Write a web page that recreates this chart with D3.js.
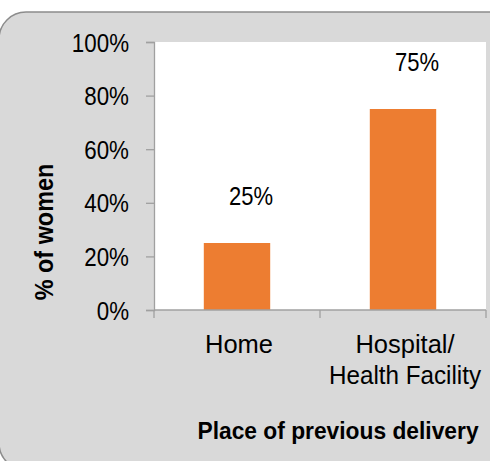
<!DOCTYPE html>
<html>
<head>
<meta charset="utf-8">
<script src="https://cdn.jsdelivr.net/npm/d3@7"></script>
<style>
  html, body { margin: 0; padding: 0; background: #ffffff; }
  svg { display: block; }
  text { font-family: "Liberation Sans", Arial, sans-serif; fill: #000; }
</style>
</head>
<body>
<div id="chart"></div>
<script>
const categories = ["Home", "Hospital/\nHealth Facility"];
const values = [0.25, 0.75];
const valueLabels = ["25%", "75%"];
const yTicks = [0, 0.2, 0.4, 0.6, 0.8, 1.0];
const yTickLabels = ["0%", "20%", "40%", "60%", "80%", "100%"];
const yTitle = "% of women";
const xTitle = "Place of previous delivery";

const W = 490, H = 461;
const plot = { left: 154, right: 486, top: 42, bottom: 310 };

const svg = d3.select("#chart").append("svg").attr("width", W).attr("height", H);

// outer chart area (rounded)
svg.append("rect")
  .attr("x", -1).attr("y", 12).attr("width", 530).attr("height", 458)
  .attr("rx", 27).attr("ry", 27)
  .attr("fill", "#d9d9d9").attr("stroke", "#8c8c8c").attr("stroke-width", 1.5);

// plot area
svg.append("rect")
  .attr("x", plot.left).attr("y", plot.top)
  .attr("width", plot.right - plot.left).attr("height", plot.bottom - plot.top)
  .attr("fill", "#ffffff");

const x = d3.scaleBand().domain(categories).range([plot.left, plot.right])
  .paddingInner(0.6).paddingOuter(0.3);
const y = d3.scaleLinear().domain([0, 1]).range([plot.bottom, plot.top]);

// bars
svg.selectAll("rect.bar").data(values).join("rect")
  .attr("class", "bar")
  .attr("x", (d, i) => x(categories[i]))
  .attr("y", d => y(d))
  .attr("width", x.bandwidth())
  .attr("height", d => y(0) - y(d))
  .attr("fill", "#ED7D31");

// data labels
svg.selectAll("text.vlabel").data(values).join("text")
  .attr("class", "vlabel")
  .attr("text-anchor", "middle")
  .attr("font-size", 25)
  .attr("transform", (d, i) => `translate(${x(categories[i]) + x.bandwidth() / 2 + 14},${y(d) - 38}) scale(0.88,1)`)
  .text((d, i) => valueLabels[i]);

// y axis
const yAxis = d3.axisLeft(y).tickValues(yTicks).tickSize(8).tickFormat((d, i) => yTickLabels[i]);
const gy = svg.append("g").attr("transform", `translate(${plot.left},0)`).call(yAxis);
gy.select(".domain").attr("stroke", "#a0a0a0").attr("stroke-width", 1.3);
gy.selectAll(".tick line").attr("stroke", "#a0a0a0").attr("stroke-width", 1.3);
gy.selectAll(".tick text")
  .attr("font-family", "Liberation Sans, Arial, sans-serif")
  .attr("font-size", 26).attr("fill", "#000")
  .attr("x", 0).attr("dy", "0.35em")
  .attr("transform", "translate(-25,0) scale(0.86,1)");

// x axis
const xAxis = d3.axisBottom(x).tickSize(8).tickFormat("");
const gx = svg.append("g").attr("transform", `translate(0,${plot.bottom})`).call(xAxis);
gx.select(".domain").attr("stroke", "#a0a0a0").attr("stroke-width", 1.3)
  .attr("d", `M${plot.left},0H${plot.right}`);
gx.selectAll(".tick").remove();
// category boundary ticks
const boundaries = [plot.left, (x(categories[0]) + x.bandwidth() + x(categories[1])) / 2, plot.right];
gx.selectAll("line.bt").data(boundaries).join("line")
  .attr("class", "bt")
  .attr("x1", d => d).attr("x2", d => d).attr("y1", 0).attr("y2", 8)
  .attr("stroke", "#a0a0a0").attr("stroke-width", 1.3);

// category labels
categories.forEach((c, i) => {
  const cx = x(c) + x.bandwidth() / 2 + 2;
  const lines = c.split("\n");
  lines.forEach((ln, j) => {
    const t = svg.append("text")
      .attr("text-anchor", "middle")
      .attr("font-size", 25.5)
      .attr("x", cx).attr("y", 353 + j * 31)
      .text(ln);
    if (ln === "Health Facility") {
      t.attr("textLength", 152).attr("lengthAdjust", "spacingAndGlyphs");
    }
  });
});

// y title
svg.append("text")
  .attr("text-anchor", "middle")
  .attr("font-size", 26).attr("font-weight", "bold")
  .attr("transform", `translate(53,${(plot.top + plot.bottom) / 2 + 56}) rotate(-90) scale(0.9,1)`)
  .text(yTitle);

// x title
svg.append("text")
  .attr("text-anchor", "middle")
  .attr("font-size", 24).attr("font-weight", "bold")
  .attr("transform", `translate(338,439) scale(0.95,1)`)
  .text(xTitle);
</script>
</body>
</html>
